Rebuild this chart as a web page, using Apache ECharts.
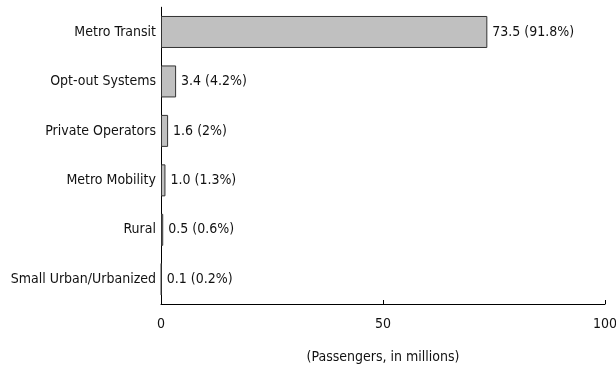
<!DOCTYPE html>
<html><head><meta charset="utf-8">
<script src="https://cdn.jsdelivr.net/npm/echarts@6/dist/echarts.min.js"></script>
<style>html,body{margin:0;padding:0;background:#fff}#c{width:616px;height:367px}</style>
</head><body><div id="c"></div>
<script>
const categories = ["Metro Transit", "Opt-out Systems", "Private Operators", "Metro Mobility", "Rural", "Small Urban/Urbanized"];
const passengers = [73.5, 3.4, 1.6, 1.0, 0.5, 0.1];
const percents = ["91.8", "4.2", "2", "1.3", "0.6", "0.2"];
const xTicks = [0, 50, 100];

const FONT = '"Liberation Sans Narrow", "Arial Narrow", "DejaVu Sans Condensed", sans-serif';
const chart = echarts.init(document.getElementById('c'), null, {renderer: 'canvas'});
chart.setOption({
  animation: false,
  grid: {left: 161, right: 11, top: 7.25, bottom: 63, outerBoundsMode: 'none', containLabel: false},
  xAxis: {
    type: 'value', min: xTicks[0], max: xTicks[xTicks.length - 1], interval: 50,
    splitLine: {show: false},
    axisLine: {show: true, lineStyle: {color: '#000', width: 1}},
    axisTick: {show: true, inside: true, length: 4, lineStyle: {color: '#000'}},
    axisLabel: {color: '#111', fontFamily: FONT, fontSize: 14, margin: 13},
    name: '(Passengers, in millions)', nameLocation: 'middle', nameGap: 46,
    nameTextStyle: {color: '#111', fontFamily: FONT, fontSize: 14}
  },
  yAxis: {
    type: 'category', data: categories, inverse: true,
    axisLine: {show: true, lineStyle: {color: '#000', width: 1}},
    axisTick: {show: false},
    axisLabel: {color: '#111', fontFamily: FONT, fontSize: 14, margin: 5}
  },
  series: [{
    type: 'bar', data: passengers, barWidth: 32,
    itemStyle: {color: '#c0c0c0', borderColor: '#333', borderWidth: 1},
    label: {
      show: true, position: 'right', distance: 5, color: '#111', fontFamily: FONT, fontSize: 14,
      formatter: p => p.value.toFixed(1) + ' (' + percents[p.dataIndex] + '%)'
    }
  }]
});
</script></body></html>
